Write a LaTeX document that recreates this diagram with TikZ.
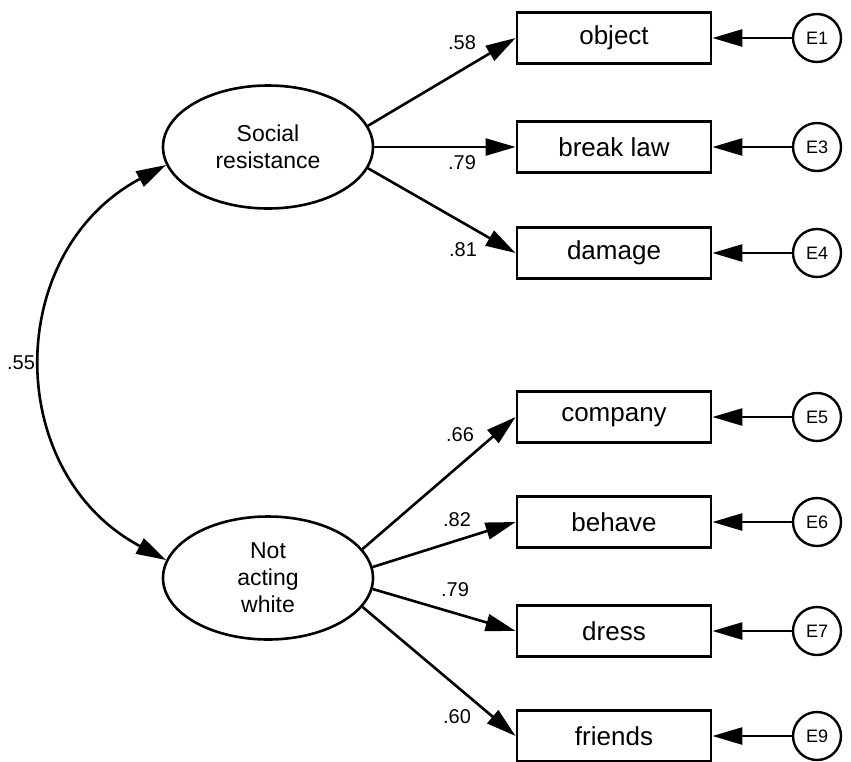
\documentclass[tikz,border=0pt]{standalone}
\usepackage{fontspec}
\setmainfont{Liberation Sans}
\usetikzlibrary{shapes.geometric,arrows.meta}
\tikzset{
latent/.style={
  ellipse,draw,line width=1.3pt,
  minimum width=105pt,minimum height=61.5pt,
  inner sep=0pt,align=center,
  font=\fontsize{11.5}{13.5}\selectfont
  },
observed/.style={
  rectangle,draw,line width=1.4pt,
  minimum width=97pt,minimum height=25.5pt,
  inner sep=0pt,
  font=\fontsize{13}{15}\selectfont
  },
errterm/.style={circle,draw,line width=1.2pt,minimum size=24pt,inner sep=0pt,font=\fontsize{9}{10}\selectfont},
loading/.style={-{Triangle[length=15pt,width=8.5pt]},line width=1.3pt},
coef/.style={inner sep=0pt,font=\fontsize{10}{12}\selectfont},
%covar/.style={dashed}
}

\begin{document}
\begin{tikzpicture}[x=0.5pt,y=0.5pt]
    \useasboundingbox (0,0) rectangle (851,-761);
    \node [latent] (soc) at (268,-147) {Social\\resistance};
    \node [latent] (naw) at (268,-578) {Not\\acting\\white};
    \foreach \name/\txt/\y/\err in {object/object/38/E1, breaklaw/break law/147/E3, damage/damage/253/E4,
        company/company/417/E5, behave/behave/522/E6, dress/dress/631/E7, friends/friends/736/E9}
    {
        \node [observed] (\name) at (614,-\y) {\txt};
        \node [errterm] (e-\name) at (817,-\y) {\err};
        \draw [loading] (e-\name) -- (\name);
    }
    \foreach \name/\ang/\val/\lx/\ly in {object/12/.58/462/43, breaklaw/0/.79/462/163, damage/-12/.81/463/250}
    {
        \draw [loading] (soc.\ang) -- (\name.west);
        \node [coef] (c-\name) at (\lx,-\ly) {\val};
    }
    \foreach \name/\ang/\val/\lx/\ly in {company/17/.66/460/435, behave/6/.82/457/520, dress/-6/.79/455/590, friends/-17/.60/457/717}
    {
        \draw [loading] (naw.\ang) -- (\name.west);
        \node [coef] (c-\name) at (\lx,-\ly) {\val};
    }
    \draw [{Triangle[length=15pt,width=8.5pt]}-{Triangle[length=15pt,width=8.5pt]},line width=1.3pt]
        (soc.190) to [out=208,in=152,looseness=1.2] (naw.170);
    \node [coef] (c-cov) at (21,-363) {.55};
\end{tikzpicture}
\end{document}
